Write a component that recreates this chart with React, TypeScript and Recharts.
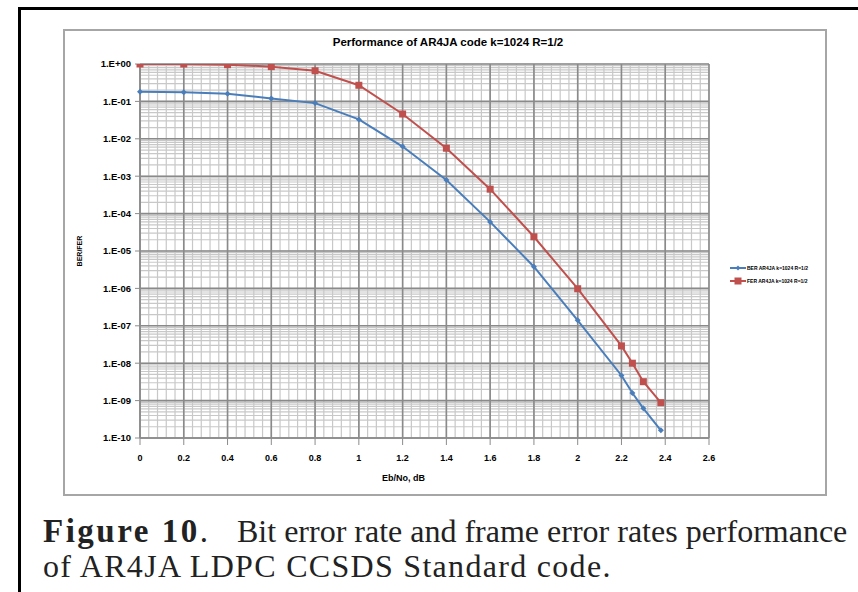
import React from 'react';
import { LineChart, Line, XAxis, YAxis, CartesianGrid, ReferenceLine, Legend, Label } from 'recharts';

// Eb/No (dB) and measured error rates
const ebNo = [0, 0.2, 0.4, 0.6, 0.8, 1.0, 1.2, 1.4, 1.6, 1.8, 2.0, 2.2, 2.25, 2.3, 2.38];
const berValues = [0.18, 0.175, 0.16, 0.12, 0.09, 0.033, 6.2e-3, 7.9e-4, 6e-5, 3.8e-6, 1.4e-7, 4.7e-9, 1.6e-9, 6.2e-10, 1.6e-10];
const ferValues = [1, 1, 0.96, 0.85, 0.66, 0.27, 0.046, 5.6e-3, 4.5e-4, 2.4e-5, 9.8e-7, 2.9e-8, 1e-8, 3.2e-9, 8.8e-10];

const xTicks = [0, 0.2, 0.4, 0.6, 0.8, 1, 1.2, 1.4, 1.6, 1.8, 2, 2.2, 2.4, 2.6];
const xMinorTicks = Array.from({ length: 66 }, (_, i) => Math.round(i * 4) / 100);
const yTicks = [1, 1e-1, 1e-2, 1e-3, 1e-4, 1e-5, 1e-6, 1e-7, 1e-8, 1e-9, 1e-10];
const yMinor: number[] = [];
for (let e = -10; e < 0; e++) {
  for (let k = 2; k <= 9; k++) yMinor.push(k * Math.pow(10, e));
}

const seriesNames = ['BER AR4JA k=1024 R=1/2', 'FER AR4JA k=1024 R=1/2'];
const BLUE = '#4a7ebb';
const RED = '#c0504d';

const chartData = ebNo.map((x, i) => ({ x, ber: berValues[i], fer: ferValues[i] }));

const font = '"Liberation Sans Narrow", "Liberation Sans", Arial, sans-serif';
const serif = '"Liberation Serif", "Times New Roman", serif';

const fmtY = (v: number) => {
  const exp = Math.round(Math.log10(v));
  const sign = exp < 0 ? '-' : '+';
  return `1.E${sign}${String(Math.abs(exp)).padStart(2, '0')}`;
};

const Diamond = (p: any) => (
  <path key={`d${p.index}`} d={`M${p.cx},${p.cy - 3} L${p.cx + 3},${p.cy} L${p.cx},${p.cy + 3} L${p.cx - 3},${p.cy} Z`} fill={BLUE} />
);

const Square = (p: any) => (
  <rect key={`s${p.index}`} x={p.cx - 3.5} y={p.cy - 3.5} width={7} height={7} fill={RED} />
);

const LegendBox = () => (
  <div style={{ width: 92, fontFamily: font, fontWeight: 'bold', fontSize: 5, color: '#000' }}>
    {seriesNames.map((n, i) => (
      <div key={n} style={{ display: 'flex', alignItems: 'center', height: 13 }}>
        <svg width={16} height={8}>
          <line x1={0} y1={4} x2={16} y2={4} stroke={i === 0 ? BLUE : RED} strokeWidth={2} />
          {i === 0 ? (
            <path d="M8,1.5 L10.5,4 L8,6.5 L5.5,4 Z" fill={BLUE} />
          ) : (
            <rect x={4.5} y={0.5} width={7} height={7} fill={RED} />
          )}
        </svg>
        <span style={{ marginLeft: 1 }}>{n}</span>
      </div>
    ))}
  </div>
);

const App = () => {
  return (
    <div style={{ position: 'absolute', left: 0, top: 0, width: 858, height: 592, background: '#fff', overflow: 'hidden' }}>
      {/* page frame */}
      <div style={{ position: 'absolute', left: 18, top: 7, width: 900, height: 700, borderLeft: '3px solid #000', borderTop: '3px solid #000' }} />
      {/* chart border */}
      <div style={{ position: 'absolute', left: 63, top: 29, width: 760, height: 463, border: '2px solid #a6a6a6' }} />

      <div style={{ position: 'absolute', left: 0, top: 0 }}>
        <LineChart width={858} height={592} data={chartData} margin={{ top: 64, right: 57, bottom: 124, left: 64 }}>
          <text x={448} y={46} textAnchor="middle" fontFamily={font} fontWeight="bold" fontSize={11.5} fill="#000">
            Performance of AR4JA code k=1024 R=1/2
          </text>
          <CartesianGrid stroke="#d0d0d0" strokeWidth={1} verticalPoints={[]} horizontalPoints={[]} />
          {xMinorTicks.map((v) => (
            <ReferenceLine key={`vx${v}`} x={v} stroke="#c8c8c8" strokeWidth={1.2} ifOverflow="hidden" />
          ))}
          {yMinor.map((v) => (
            <ReferenceLine key={`hy${v}`} y={v} stroke="#c8c8c8" strokeWidth={1.2} ifOverflow="hidden" />
          ))}
          {xTicks.map((v) => (
            <ReferenceLine key={`vX${v}`} x={v} stroke="#8a8a8a" strokeWidth={1.6} />
          ))}
          {yTicks.map((v) => (
            <ReferenceLine key={`hY${v}`} y={v} stroke="#8a8a8a" strokeWidth={1.6} />
          ))}
          <XAxis
            xAxisId="minor"
            dataKey="x"
            type="number"
            domain={[0, 2.6]}
            ticks={xMinorTicks}
            tick={false}
            tickSize={4}
            axisLine={false}
            tickLine={{ stroke: '#8c8c8c' }}
            height={0}
          />
          <XAxis
            dataKey="x"
            type="number"
            domain={[0, 2.6]}
            ticks={xTicks}
            interval={0}
            tickSize={7}
            tickMargin={10}
            axisLine={{ stroke: '#8c8c8c', strokeWidth: 1.5 }}
            tickLine={{ stroke: '#8c8c8c' }}
            tick={{ fontSize: 9, fontWeight: 'bold', fill: '#000', fontFamily: font }}
            height={30}
          >
            <Label value="Eb/No, dB" position="bottom" offset={7} dx={-21} style={{ fontSize: 9, fontWeight: 'bold', fill: '#000', fontFamily: font }} />
          </XAxis>
          <YAxis
            scale="log"
            domain={[1e-10, 1]}
            allowDataOverflow
            ticks={yTicks}
            interval={0}
            tickFormatter={fmtY}
            tickSize={5}
            tickMargin={4}
            width={76}
            axisLine={{ stroke: '#8c8c8c', strokeWidth: 1.5 }}
            tickLine={{ stroke: '#8c8c8c' }}
            tick={{ fontSize: 9.5, fontWeight: 'bold', fill: '#000', fontFamily: font }}
          >
            <Label value="BER/FER" angle={-90} position="insideLeft" offset={16} style={{ fontSize: 7, fontWeight: 'bold', fill: '#000', fontFamily: font, textAnchor: 'middle' }} />
          </YAxis>
          <Legend
            layout="vertical"
            align="right"
            verticalAlign="middle"
            content={<LegendBox />}
            wrapperStyle={{ right: 36, top: 261, width: 92 }}
          />
          <Line
            name={seriesNames[0]}
            dataKey="ber"
            stroke={BLUE}
            strokeWidth={2}
            dot={Diamond}
            isAnimationActive={false}
          />
          <Line
            name={seriesNames[1]}
            dataKey="fer"
            stroke={RED}
            strokeWidth={2}
            dot={Square}
            isAnimationActive={false}
          />
        </LineChart>
      </div>

      <div style={{ position: 'absolute', left: 43, top: 514, fontFamily: serif, fontSize: 33, lineHeight: '35px', color: '#222', whiteSpace: 'nowrap' }}>
        <span style={{ fontWeight: 'bold', letterSpacing: 2.5 }}>Figure 10</span>.
      </div>
      <div style={{ position: 'absolute', left: 237, top: 514, fontFamily: serif, fontSize: 32, lineHeight: '35px', color: '#222', whiteSpace: 'nowrap' }}>
        Bit error rate and frame error rates performance
      </div>
      <div style={{ position: 'absolute', left: 43, top: 549, fontFamily: serif, fontSize: 32, lineHeight: '35px', color: '#222', whiteSpace: 'nowrap', letterSpacing: 1.3 }}>
        of AR4JA LDPC CCSDS Standard code.
      </div>
    </div>
  );
};

export default App;
